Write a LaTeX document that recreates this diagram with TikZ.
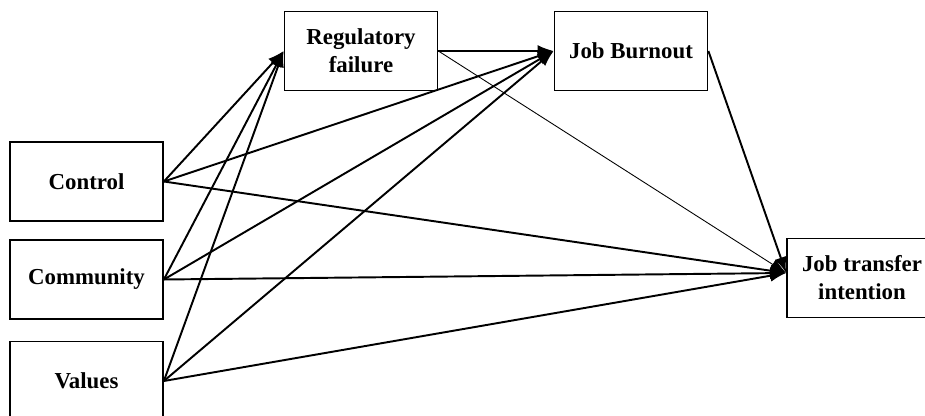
\documentclass[tikz,border=0pt]{standalone}
\usepackage{fontspec}
\setmainfont{Liberation Serif}
\usetikzlibrary{positioning}
\usetikzlibrary{arrows.meta}

\begin{document}
\begin{tikzpicture}[var/.style={draw, line width=1pt, rectangle, align=center,
                        minimum width=3.06cm, minimum height=1.58cm,
                        font=\fontsize{13}{16}\selectfont\bfseries},
                    path/.style={draw, line width=1.1pt, -{Latex[length=3.2mm,width=2.4mm]}},
                    thinpath/.style={draw, line width=0.5pt, -{Latex[length=3.2mm,width=2.4mm]}}]
    \useasboundingbox (0,0) rectangle (18.5,-8.32);
    % constructs
    \node[var] (rf) at (7.22,-1.02) {Regulatory\\failure};
    \node[var] (jb) at (12.62,-1.02) {Job Burnout};
    \node[var] (ctrl) at (1.73,-3.63) {Control};
    \node[var] (comm) at (1.73,-5.59) {Community};
    \node[var] (val) at (1.73,-7.62) {Values};
    \node[var, minimum width=3.0cm] (jti) at (17.24,-5.56) {Job transfer\\intention};
    \coordinate (jtiin) at ([yshift=0.1cm]jti.west);
    % paths to regulatory failure
    \foreach \src in {ctrl, comm, val}
        \draw[path] (\src.east) -- (rf.west);
    % paths to job burnout
    \foreach \src in {ctrl, comm, val, rf}
        \draw[path] (\src.east) -- (jb.west);
    % paths to job transfer intention
    \foreach \src in {ctrl, comm, val, jb}
        \draw[path] (\src.east) -- (jtiin);
    \draw[thinpath] (rf.east) -- (jtiin);
\end{tikzpicture}
\end{document}
